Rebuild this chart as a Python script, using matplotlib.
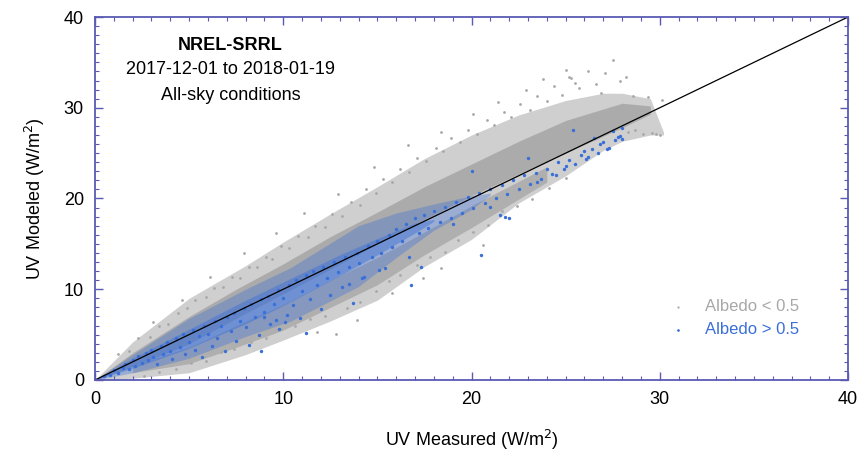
import numpy as np
import matplotlib
matplotlib.use("Agg")
from matplotlib import pyplot as plt
from matplotlib.ticker import MultipleLocator

plt.rcParams['font.family'] = ['Liberation Sans', 'DejaVu Sans']

GRAY = '#a8a8a8'
BLUE = '#3a6fd8'
FRAME = '#5a5ab4'

# outer (sparser) extent of the grey cloud
outerX = [0, 2, 5, 8, 10, 12.5, 15, 17.5, 20, 22.5, 25, 27, 28, 29.5, 30.2]
outerLo = [0, 0.2, 0.8, 2.8, 4.4, 6.5, 8.8, 12.5, 15.5, 19.5, 22.5, 25.3, 26.3, 27, 27]
outerHi = [0, 4.2, 9, 12.6, 15.2, 18.3, 21.3, 24.4, 27, 29.2, 30.8, 31.6, 31.6, 31, 27.3]

# dense grey core, on and above the 1:1 line
coreX = [0, 2, 5, 7.5, 10, 12.5, 15, 17.5, 20, 22.5, 25, 28, 29.5]
coreLo = [0, 1.5, 4, 6.8, 9.5, 12.2, 15, 17.7, 20.3, 22.7, 25, 27.8, 29.3]
coreHi = [0, 3, 7, 10, 12.8, 15.8, 18.5, 21.3, 23.8, 26.3, 28.6, 30.5, 30.2]

# dense grey band below the 1:1 line
lowX = [2, 5, 7.5, 10, 12.5, 15, 17.5, 20, 24]
lowLo = [0.8, 1.8, 3.6, 5.5, 8, 10.5, 13.8, 16.8, 21.8]
lowHi = [1.6, 3.6, 6, 8.3, 11, 13.5, 16.3, 19.2, 23.5]

# sparse grey points
grayX = [1.2, 1.8, 2.3, 2.9, 3.4, 3.9, 4.4, 4.9, 5.3, 5.9, 6.3, 6.8, 7.3, 7.7, 8.2, 8.6, 9.1, 9.4, 9.9, 10.3,
         10.8, 11.3, 11.7, 12.2, 12.6, 13.1, 13.6, 14.1, 14.4, 14.9, 15.3, 15.8, 16.2, 16.7, 17.1, 17.6,
         18.1, 18.5, 18.9, 19.4, 19.8, 20.3, 20.8, 21.2, 21.7, 22.1, 22.6, 23.1, 23.5, 24, 24.4, 24.8,
         25.3, 25.7, 26.2, 26.6, 27.1, 27.5, 27.9, 28.2, 23.8, 22.9, 21.4, 20.1, 18.4, 16.6, 14.8, 12.9,
         11.1, 9.6, 7.9, 6.1, 4.6, 3.1, 26.9, 28.6, 29.4, 30.1, 25, 25.2, 25.5,
         2.6, 3.4, 4.3, 5.1, 5.9, 6.7, 7.4, 8.3, 9.1, 9.9, 10.6, 11.4, 12.2, 12.8, 13.4, 14.1, 14.9,
         15.6, 16.2, 17.1, 17.8, 18.6, 19.3, 20.1, 20.9, 21.6, 22.4, 23.2, 24.1, 25, 20.6, 18.4, 17.4,
         15.8, 13.9, 11.8, 28.3, 28.7, 29.1, 29.6, 30, 29.8]
grayY = [2.9, 3.2, 4.6, 4.7, 5.9, 6.2, 7.4, 7.9, 8.8, 9.1, 10.1, 10.3, 11.3, 11.2, 12.5, 12.4, 13.5, 13.3, 14.8, 14.6,
         15.9, 15.8, 17, 16.9, 18.3, 18.1, 19.6, 19.3, 21, 20.6, 22.2, 21.8, 23.2, 22.9, 24.5, 24.1,
         25.6, 25.2, 26.7, 26.2, 27.6, 27.1, 28.6, 28.1, 29.5, 29, 30.4, 29.8, 31.3, 30.7, 32.4, 31.4,
         33.3, 32.2, 34, 32.6, 33.8, 35.3, 32.9, 33.4, 33.2, 32, 30.6, 29.3, 27.3, 25.9, 23.5, 20.5,
         18.4, 16.2, 14, 11.3, 8.8, 6.4, 31.6, 31.3, 31.2, 30.9, 34.2, 33.4, 32.7,
         0.4, 0.9, 1.2, 1.9, 2.1, 3.1, 3.4, 4.2, 4.6, 5.6, 5.9, 6.7, 7.1, 5.1, 7.9, 8.6, 9.8,
         10.9, 11.6, 12.7, 13.5, 14.1, 15.4, 16.3, 17.1, 18.6, 19.2, 19.9, 21.2, 22.3, 14.9, 12.3, 11.2,
         9.6, 6.6, 5.3, 27.3, 27.5, 27.1, 27.2, 27, 27.1]

# dense blue band around the 1:1 line
blueOuterX = [0, 2, 5, 8, 10.4, 14, 16, 18, 20, 21]
blueOuterLo = [0, 0.8, 2.4, 4.8, 6.5, 10.3, 13.5, 16.5, 18.8, 20.4]
blueOuterHi = [0, 2.8, 6.8, 10, 12.4, 17, 18.4, 19.4, 20.3, 20.6]
blueInnerX = [0, 2, 5, 8, 10, 13, 15, 17, 18]
blueInnerLo = [0, 1.3, 3.5, 6.2, 8.2, 11.5, 13.8, 16.2, 17.5]
blueInnerHi = [0, 2.4, 5.6, 8.8, 10.8, 13.8, 15.6, 17.3, 17.7]

blueX = [0.5, 0.8, 1, 1.2, 1.5, 1.6, 1.8, 2, 2.1, 2.3, 2.5, 2.7, 2.8, 3, 3.1, 3.3, 3.5, 3.6, 3.8, 4,
         4.1, 4.3, 4.5, 4.7, 4.8, 5, 5.2, 5.3, 5.5, 5.7, 5.8, 6, 6.2, 6.4, 6.5, 6.7, 6.9, 7, 7.2, 7.4,
         7.5, 7.7, 7.9, 8, 8.2, 8.3, 8.5, 8.7, 8.8, 9, 9.2, 9.3, 9.5, 9.7, 9.8, 10, 10.2, 10.3, 10.5, 10.7,
         10.9, 11, 11.2, 11.4, 11.6, 11.8, 12, 12.1, 12.3, 12.5, 12.7, 12.9, 13.1, 13.3, 13.5, 13.7, 13.9, 14,
         14.3, 14.5, 14.7, 15, 15.2, 15.4, 15.6, 15.8, 16, 16.3, 16.5, 16.7, 17, 17.2, 17.5, 17.7, 18, 18.3,
         18.6, 18.9, 19.2, 19.5, 19.8, 20.1, 20.4, 20.7, 21, 21.3, 21.6, 21.9, 22.2, 22.5, 22.8, 23.1, 23.4,
         23.7, 24, 24.3, 24.6, 24.9, 25.2, 25.5, 25.8, 26.1, 26.4, 26.7, 27, 27.3, 27.6, 27.9, 28, 27.5, 26.5,
         21.5, 21.8, 22, 17.3, 20.5, 16.8, 11.2, 8.8, 25.4, 20, 23, 26, 26.8, 27.8,
         9, 9.6, 10.1, 13.5, 14.2, 15.1, 19, 21, 23.5, 24.5, 25, 26.2, 27.2, 28]
blueY = [0.4, 0.6, 1.1, 0.8, 1.3, 1.8, 1.2, 2.2, 1.5, 2.6, 1.9, 3, 2.2, 3.3, 2.5, 1.8, 3.8, 2.9, 4.2, 3.2,
         2.3, 4.6, 3.6, 5.1, 2.9, 4.2, 5.5, 3.3, 4.8, 2.5, 6, 5.1, 3.8, 6.5, 4.6, 5.9, 3.2, 6.9, 5.4, 7.4,
         4.3, 6.5, 7.9, 5.8, 3.9, 8.4, 6.9, 5, 8.9, 7.5, 9.3, 6.2, 8.4, 9.9, 5.6, 9, 7.2, 10.5, 8.3, 11,
         6.8, 9.8, 11.6, 8.9, 12, 10.5, 7.8, 12.4, 11.2, 9.4, 13, 11.9, 10.2, 13.5, 12.4, 8.5, 14, 12.9,
         11.3, 14.8, 13.5, 15.3, 14, 12.3, 16, 14.7, 16.6, 15.3, 17.2, 13.6, 17.8, 16.2, 18.2, 16.8, 18.6, 17.4,
         19.1, 17.9, 19.6, 18.4, 20.2, 18.9, 20.6, 19.5, 21, 20, 21.5, 20.5, 22, 21.1, 22.6, 21.6, 22.8,
         22.1, 23.2, 22.7, 24, 23.3, 24.2, 23.8, 24.8, 24.4, 25.4, 25, 26.2, 25.6, 26.5, 26.9, 27.8, 27.4, 26.7,
         18.2, 18, 17.9, 12.5, 13.8, 10.5, 5.2, 3.2, 27.5, 23, 24.5, 25.2, 26, 26.8,
         6.9, 6.6, 6.4, 10.6, 11.2, 12.1, 17.2, 19.1, 21.8, 22.6, 23.6, 24.6, 25.5, 26.6]

fig = plt.figure(figsize=(8.62, 4.57), dpi=100)
ax = fig.add_axes([0.1102, 0.1685, 0.8736, 0.7943])

ax.fill_between(outerX, outerLo, outerHi, color=GRAY, lw=0, alpha=0.55)
ax.fill_between(coreX, coreLo, coreHi, color=GRAY, lw=0, alpha=0.9)
ax.fill_between(lowX, lowLo, lowHi, color=GRAY, lw=0, alpha=0.8)
ax.scatter(grayX, grayY, s=4, color=GRAY, lw=0, label='Albedo < 0.5')
ax.fill_between(blueOuterX, blueOuterLo, blueOuterHi, color=BLUE, lw=0, alpha=0.35)
ax.fill_between(blueInnerX, blueInnerLo, blueInnerHi, color=BLUE, lw=0, alpha=0.45)
ax.scatter(blueX, blueY, s=6, color=BLUE, lw=0, label='Albedo > 0.5')

ax.plot([0, 40], [0, 40], color='black', lw=0.9)

ax.set_xlim(0, 40)
ax.set_ylim(0, 40)
ax.xaxis.set_major_locator(MultipleLocator(10))
ax.yaxis.set_major_locator(MultipleLocator(10))
ax.xaxis.set_minor_locator(MultipleLocator(1))
ax.yaxis.set_minor_locator(MultipleLocator(1))
ax.tick_params(which='both', direction='in', top=True, right=True, color=FRAME,
               labelsize=13, pad=8)
ax.tick_params(which='major', length=6, width=1)
ax.tick_params(which='minor', length=3, width=0.8)
for sp in ax.spines.values():
    sp.set_color(FRAME)
    sp.set_linewidth(1.3)

ax.set_xlabel(r'UV Measured (W/m$^2$)', fontsize=13, labelpad=14)
ax.set_ylabel(r'UV Modeled (W/m$^2$)', fontsize=13, labelpad=12)

ax.text(7.2, 36.9, 'NREL-SRRL', ha='center', va='center', fontsize=13, fontweight='bold')
ax.text(7.2, 34.2, '2017-12-01 to 2018-01-19', ha='center', va='center', fontsize=13)
ax.text(7.2, 31.4, 'All-sky conditions', ha='center', va='center', fontsize=13)

ax.legend(loc='center left', bbox_to_anchor=(0.732, 0.17), frameon=False, fontsize=12,
          labelcolor=[GRAY, BLUE], markerscale=0.8, handletextpad=0.6, labelspacing=0.5)

fig.savefig('out.png', dpi=100)
